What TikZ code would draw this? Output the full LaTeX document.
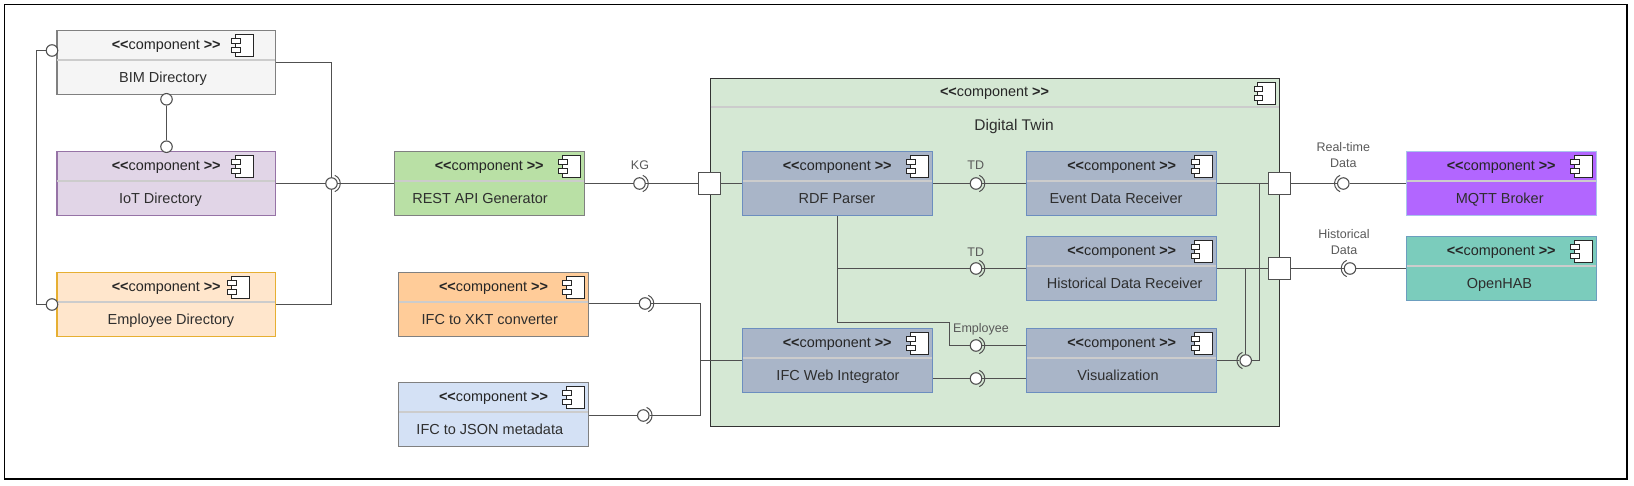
\documentclass[tikz,border=0pt]{standalone}
\usepackage{fontspec}
\setmainfont{Liberation Sans}
\usepackage{tikz}
\usetikzlibrary{calc}

\definecolor{linegray}{HTML}{505050}
\definecolor{boxgray}{HTML}{808080}
\definecolor{innerblue}{HTML}{A9B5C8}
\definecolor{inneredge}{HTML}{6C8EBF}

\tikzset{
    compbox/.style={draw, line width=1.1pt, minimum height=63.7pt, inner sep=0pt},
    widebox/.style={compbox, minimum width=218.5pt},
    normbox/.style={compbox, minimum width=190pt},
    innerbox/.style={normbox, fill=innerblue, draw=inneredge},
    stereo/.style={font=\fontsize{14.4}{15}\selectfont, text=black!85, inner sep=0pt, anchor=base},
    bodytext/.style={font=\fontsize{14.5}{15}\selectfont, text=black!82, inner sep=0pt, anchor=base},
    smalllabel/.style={font=\fontsize{12.5}{16}\selectfont, text=black!65, inner sep=0pt, align=center},
    divider/.style={line width=1.4pt, black!20},
    conn/.style={draw=linegray, line width=1.2pt},
    ball/.style={circle, draw=linegray, fill=white, line width=1.1pt, minimum size=11.5pt, inner sep=0pt},
    port/.style={draw=linegray, fill=white, line width=1.1pt, minimum size=22pt, inner sep=0pt},
    socketright/.pic={\draw[conn, line width=1pt] (68:8.8pt) arc (68:-68:8.8pt);},
    socketleft/.pic={\draw[conn, line width=1pt] (112:8.8pt) arc (112:248:8.8pt);},
    compicon/.pic={
        \draw[black!85, fill=white, line width=1pt] (-18,0) rectangle (0,22);
        \draw[black!85, fill=white, line width=1pt] (-21.5,4) rectangle (-13,9);
        \draw[black!85, fill=white, line width=1pt] (-21.5,13) rectangle (-13,18);
    },
}

\newcommand{\stereotext}{\textbf{<{}<}component \textbf{>{}>}}

% name, centre x, top y, style, icon right x, text x, text
\newcommand{\comp}[7]{
    \node[#4] (#1) at (#2, #3+31.5) {};
    \draw[divider] ($(#1.north west)+(1,29.7)$) -- ($(#1.north east)+(-1,29.7)$);
    \node[stereo] (#1-head) at (#2, #3+18.2) {\stereotext};
    \node[bodytext] (#1-text) at (#6, #3+51.8) {#7};
    \pic at (#5, #3+3.5) {compicon};
}

\begin{document}
\begin{tikzpicture}[x=1pt, y=-1pt]
    \useasboundingbox (0,0) rectangle (1634,485);
    \node[draw=black, line width=1.1pt, minimum width=1622.7pt, minimum height=474.7pt, inner sep=0pt] (frame) at (815.65, 241.65) {};

    % Left column
    \comp{bim}{166.2}{31}{widebox, fill={rgb,255:red,245;green,245;blue,245}, draw=boxgray}{253.3}{163}{BIM Directory}
    \comp{iot}{166.2}{152}{widebox, fill={rgb,255:red,225;green,213;blue,231}, draw={rgb,255:red,150;green,115;blue,166}}{253.3}{160.5}{IoT Directory}
    \comp{emp}{166.2}{273}{widebox, fill={rgb,255:red,255;green,230;blue,204}, draw={rgb,255:red,230;green,175;blue,50}}{249.3}{171}{Employee Directory}

    % Middle column
    \comp{rest}{489.2}{152}{normbox, fill={rgb,255:red,185;green,224;blue,165}, draw=boxgray}{580.3}{480}{REST API Generator}
    \comp{xkt}{493.5}{273}{normbox, fill={rgb,255:red,255;green,204;blue,153}, draw=boxgray}{584.3}{489.8}{IFC to XKT converter}
    \comp{json}{493.5}{383}{normbox, fill={rgb,255:red,212;green,225;blue,245}, draw=boxgray}{584.3}{489.8}{IFC to JSON metadata}

    % Digital Twin container
    \node[draw=black!80, fill={rgb,255:red,213;green,232;blue,212}, line width=1.1pt, minimum width=569.4pt, minimum height=348pt, inner sep=0pt] (twin) at (995, 252.3) {};
    \draw[divider] ($(twin.north west)+(1,29.4)$) -- ($(twin.north east)+(-1,29.4)$);
    \node[stereo] (twin-head) at (994.5, 96.7) {\stereotext};
    \node[bodytext, font=\fontsize{15.5}{16}\selectfont] (twin-text) at (1014, 130.7) {Digital Twin};
    \pic at (1275.7, 82.3) {compicon};

    % Inside the twin
    \comp{rdf}{837.2}{152}{innerbox}{928.3}{837}{RDF Parser}
    \comp{web}{837.2}{329}{innerbox}{928.3}{838}{IFC Web Integrator}
    \comp{event}{1121.7}{152}{innerbox}{1212.7}{1116}{Event Data Receiver}
    \comp{hist}{1121.7}{237}{innerbox}{1212.7}{1124.7}{Historical Data Receiver}
    \comp{vis}{1121.7}{329}{innerbox}{1212.7}{1118}{Visualization}

    % Right column
    \comp{mqtt}{1501.2}{152}{normbox, fill={rgb,255:red,178;green,102;blue,255}, draw={rgb,255:red,170;green,196;blue,235}}{1592.3}{1499.7}{MQTT Broker}
    \comp{hab}{1501.2}{237}{normbox, fill={rgb,255:red,123;green,204;blue,188}, draw={rgb,255:red,108;green,158;blue,191}}{1592.3}{1499.5}{OpenHAB}

    % Ports and interface balls
    \node[port] (twinin) at (709.7, 183.5) {};
    \node[port] (twinrt) at (1279.7, 183.5) {};
    \node[port] (twinhist) at (1279.7, 268.5) {};
    \node[ball] (bimleft) at (52, 50.5) {};
    \node[ball] (empleft) at (52, 304.5) {};
    \node[ball] (bimdown) at (166.5, 99.3) {};
    \node[ball] (iotup) at (166.5, 146.7) {};
    \node[ball] (hub) at (331.5, 183.5) {};
    \node[ball] (kg) at (639.5, 183.5) {};
    \node[ball] (xktball) at (645, 303.5) {};
    \node[ball] (jsonball) at (643.3, 415.5) {};
    \node[ball] (tdevent) at (976, 183.5) {};
    \node[ball] (tdhist) at (976, 268.5) {};
    \node[ball] (empvis) at (976, 345.5) {};
    \node[ball] (webvis) at (976, 378.5) {};
    \node[ball] (visball) at (1245.7, 360.5) {};
    \node[ball] (rtball) at (1343.3, 183.5) {};
    \node[ball] (histball) at (1350, 268.5) {};

    % Sockets
    \pic at (hub) {socketright};
    \pic at (kg) {socketright};
    \pic at (xktball) {socketright};
    \pic at (jsonball) {socketright};
    \pic at (tdevent) {socketright};
    \pic at (tdhist) {socketright};
    \pic at (empvis) {socketright};
    \pic at (webvis) {socketright};
    \pic at (visball) {socketleft};
    \pic at (rtball) {socketleft};
    \pic at (histball) {socketleft};

    % Left rail and hub
    \coordinate (railtop) at (36.5, 50.5);
    \coordinate (hubtop) at (331.5, 62.5);
    \coordinate (hubbottom) at (331.5, 304.5);
    \draw[conn] (bimleft) -- (railtop) |- (empleft);
    \draw[conn] (bimdown) -- (iotup);
    \draw[conn] (bim.east) -- (hubtop) -- (hub);
    \draw[conn] (emp.east) -- (hubbottom) -- (hub);
    \draw[conn] (iot.east) -- (hub);
    \draw[conn] (hub) -- (rest.west);

    % REST to twin
    \draw[conn] (rest.east) -- (kg);
    \draw[conn] (kg) -- (twinin);
    \draw[conn] (twinin) -- (rdf.west);

    % Converters
    \coordinate (ifcrail) at (700.5, 360.5);
    \coordinate (ifctop) at (700.5, 303.5);
    \coordinate (ifcbottom) at (700.5, 415.5);
    \draw[conn] (xkt.east |- xktball) -- (xktball);
    \draw[conn] (json.east |- jsonball) -- (jsonball);
    \draw[conn] (xktball) -- (ifctop) -- (ifcbottom) -- (jsonball);
    \draw[conn] (ifcrail) -- (web.west);

    % Inside the twin
    \coordinate (rdfdrop) at (rdf.south |- tdhist);
    \coordinate (rdfbend) at (837.2, 322.5);
    \coordinate (empbend) at (949.5, 322.5);
    \coordinate (empfoot) at (949.5, 345.5);
    \draw[conn] (rdf.east) -- (tdevent);
    \draw[conn] (tdevent) -- (event.west);
    \draw[conn] (rdfdrop) -- (tdhist);
    \draw[conn] (tdhist) -- (hist.west);
    \draw[conn] (rdf.south) -- (rdfbend) -- (empbend) -- (empfoot) -- (empvis);
    \draw[conn] (empvis) -- (empvis -| vis.west);
    \draw[conn] (web.east |- webvis) -- (webvis);
    \draw[conn] (webvis) -- (vis.west |- webvis);

    % Out of the twin
    \coordinate (vistie) at (1259.5, 360.5);
    \coordinate (vistop) at (1259.5, 183.5);
    \coordinate (histtie) at (1245.7, 268.5);
    \draw[conn] (vis.east) -- (visball);
    \draw[conn] (visball) -- (vistie) -- (vistop);
    \draw[conn] (visball) -- (histtie);
    \draw[conn] (event.east) -- (twinrt);
    \draw[conn] (hist.east) -- (twinhist);
    \draw[conn] (twinrt) -- (rtball);
    \draw[conn] (rtball) -- (mqtt.west);
    \draw[conn] (twinhist) -- (histball);
    \draw[conn] (histball) -- (hab.west);

    % Labels
    \node[smalllabel] (kglabel) at (640, 165) {KG};
    \node[smalllabel] (tdlabel) at (975.7, 165) {TD};
    \node[smalllabel] (tdhistlabel) at (975.7, 251.7) {TD};
    \node[smalllabel] (emplabel) at (981, 329) {Employee};
    \node[smalllabel] (rtlabel) at (1343.3, 155) {Real-time\\Data};
    \node[smalllabel] (histlabel) at (1344, 241.7) {Historical\\Data};
\end{tikzpicture}
\end{document}
